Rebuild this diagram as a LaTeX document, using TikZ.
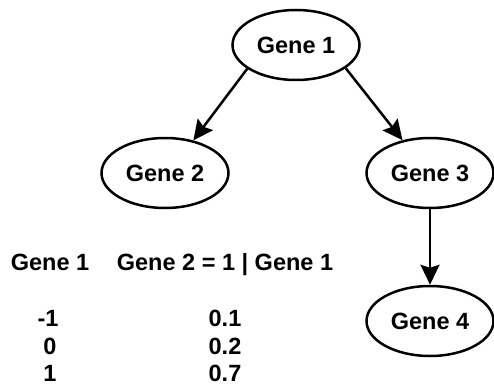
\documentclass[tikz,border=0pt]{standalone}
\usepackage{fontspec}
\setmainfont{Liberation Sans}
\usetikzlibrary{shapes.geometric,arrows.meta}
\begin{document}
\begin{tikzpicture}[x=1pt,y=-1pt,
  gene/.style={ellipse,draw,line width=2.5pt,minimum width=127pt,minimum height=70pt,inner sep=0pt,font=\fontsize{23.5}{27}\selectfont\bfseries},
  conn/.style={line width=2.5pt,-{Stealth[length=20pt,width=19pt,inset=3pt]}},
  txt/.style={font=\fontsize{23.5}{27}\selectfont\bfseries,inner sep=0pt,anchor=base}]
\useasboundingbox (0,0) rectangle (494,385);
\node[gene] (g1) at (296,45) {Gene 1};
\node[gene] (g2) at (165,173) {Gene 2};
\node[gene] (g3) at (430,173) {Gene 3};
\node[gene] (g4) at (430,321) {Gene 4};
\draw[conn] (g1.206) -- (g2.49);
\draw[conn] (g1.335) -- (g3.130);
\draw[conn] (g3) -- (g4);
\node[txt] (h1) at (50,270) {Gene 1};
\node[txt] (h2) at (225,270) {Gene 2 = 1 | Gene 1};
\node[txt] (a1) at (48,326) {-1};
\node[txt] (a2) at (50,354) {0};
\node[txt] (a3) at (50,381) {1};
\node[txt] (b1) at (225,326) {0.1};
\node[txt] (b2) at (225,354) {0.2};
\node[txt] (b3) at (225,381) {0.7};
\end{tikzpicture}
\end{document}
